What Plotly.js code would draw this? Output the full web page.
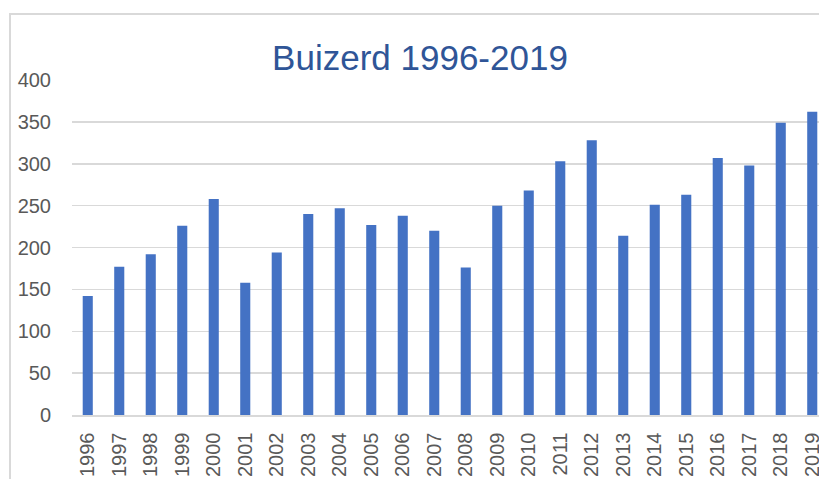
<!DOCTYPE html>
<html>
<head>
<meta charset="utf-8">
<script src="https://cdn.plot.ly/plotly-3.0.1.min.js"></script>
<style>
html,body{margin:0;padding:0;width:819px;height:479px;overflow:hidden;background:#fff;}
#frame{position:absolute;left:9px;top:13px;width:900px;height:600px;border-left:2px solid #d9d9d9;border-top:2px solid #d9d9d9;}
#chart{position:absolute;left:0;top:0;}
</style>
</head>
<body>
<div id="frame"></div>
<div id="chart"></div>
<script>
var years = ['1996','1997','1998','1999','2000','2001','2002','2003','2004','2005','2006','2007','2008','2009','2010','2011','2012','2013','2014','2015','2016','2017','2018','2019'];
var counts = [142,177,192,226,258,158,194,240,247,227,238,220,176,250,268,303,328,214,251,263,307,298,349,362];
var yTicks = [0,50,100,150,200,250,300,350,400];

var trace = {
  type: 'bar',
  x: years,
  y: counts,
  marker: {color: '#4472C4'},
  hoverinfo: 'x+y'
};

var layout = {
  width: 840,
  height: 479,
  margin: {l: 72, r: 12, t: 80, b: 64, pad: 0},
  paper_bgcolor: 'rgba(0,0,0,0)',
  plot_bgcolor: 'rgba(0,0,0,0)',
  bargap: 0.68,
  showlegend: false,
  title: {
    text: 'Buizerd 1996-2019',
    font: {family: 'Liberation Sans, Arial, sans-serif', size: 35, color: '#2F5597'},
    x: 0.5, xref: 'container', xanchor: 'center',
    y: 1 - 58/479, yref: 'container', yanchor: 'middle'
  },
  xaxis: {
    type: 'category',
    tickangle: -90,
    tickfont: {family: 'Liberation Sans, Arial, sans-serif', size: 20, color: '#595959'},
    showgrid: false,
    showline: true,
    linecolor: '#d9d9d9',
    linewidth: 1.5,
    ticks: '',
    ticklabelstandoff: 8
  },
  yaxis: {
    range: [0, 400],
    tickvals: yTicks,
    ticktext: yTicks.map(String),
    tickfont: {family: 'Liberation Sans, Arial, sans-serif', size: 20, color: '#595959'},
    showgrid: true,
    gridcolor: '#d9d9d9',
    gridwidth: 1.5,
    zeroline: false,
    showline: false,
    ticks: '',
    ticklabelstandoff: 20
  }
};

Plotly.newPlot('chart', [trace], layout, {staticPlot: true, displayModeBar: false});
</script>
</body>
</html>
